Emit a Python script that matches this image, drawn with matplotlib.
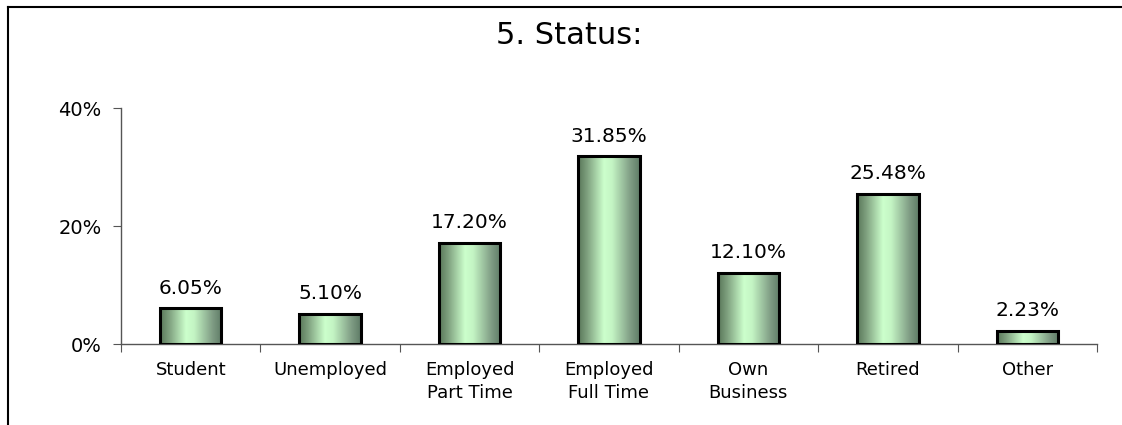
import numpy as np
import matplotlib.pyplot as plt
from matplotlib.colors import LinearSegmentedColormap
from matplotlib.lines import Line2D

categories = ["Student", "Unemployed", "Employed\nPart Time", "Employed\nFull Time",
              "Own\nBusiness", "Retired", "Other"]
values = [6.05, 5.10, 17.20, 31.85, 12.10, 25.48, 2.23]
yticks = [0, 20, 40]
ytick_labels = ["0%", "20%", "40%"]

plt.rcParams['font.family'] = 'DejaVu Sans'

fig = plt.figure(figsize=(11.22, 4.25), dpi=100)
ax = fig.add_axes([121 / 1122, 1 - 344 / 425, (1097 - 121) / 1122, (344 - 108) / 425])

# cylinder-like shading for the bars
cmap = LinearSegmentedColormap.from_list(
    "cyl", [(0, "#587658"), (0.15, "#7fa17f"), (0.42, "#ccffcc"), (0.55, "#c4f5c4"),
            (0.85, "#7f9c84"), (1, "#5e7b66")])
grad = np.linspace(0, 1, 256).reshape(1, -1)

x = np.arange(len(values))
bars = ax.bar(x, values, 0.44, facecolor='none', edgecolor='black', linewidth=2.2, zorder=3)
for b in bars:
    x0 = b.get_x()
    ax.imshow(grad, extent=[x0, x0 + b.get_width(), 0, b.get_height()],
              aspect='auto', cmap=cmap, zorder=2)

for xi, v in zip(x, values):
    ax.annotate(f"{v:.2f}%", (xi, v), xytext=(0, 10.5), textcoords='offset points',
                ha='center', va='baseline', fontsize=14.5)

ax.set_xlim(-0.5, len(values) - 0.5)
ax.set_ylim(0, 40)

ax.set_xticks(np.arange(-0.5, len(values), 1))
ax.set_xticklabels([])
ax.set_xticks(x, minor=True)
ax.set_xticklabels(categories, minor=True, fontsize=13, linespacing=1.4)
ax.tick_params(axis='x', which='major', direction='out', length=6, color='#555555')
ax.tick_params(axis='x', which='minor', length=0, pad=12)

ax.set_yticks(yticks)
ax.set_yticklabels(ytick_labels, fontsize=14)
ax.tick_params(axis='y', direction='out', length=6, pad=8, color='#555555')

for s in ['top', 'right']:
    ax.spines[s].set_visible(False)
for s in ['left', 'bottom']:
    ax.spines[s].set_color('#555555')
    ax.spines[s].set_linewidth(1)

fig.text(0.507, 1 - 36 / 425, "5. Status:", ha='center', va='center', fontsize=22)

# outer chart border (cropped)
fig.add_artist(Line2D([8 / 1122, 1], [1 - 7 / 425, 1 - 7 / 425],
                      transform=fig.transFigure, color='black', lw=1.5))
fig.add_artist(Line2D([8 / 1122, 8 / 1122], [0, 1 - 7 / 425],
                      transform=fig.transFigure, color='black', lw=1.5))

fig.savefig("out.png", dpi=100)
